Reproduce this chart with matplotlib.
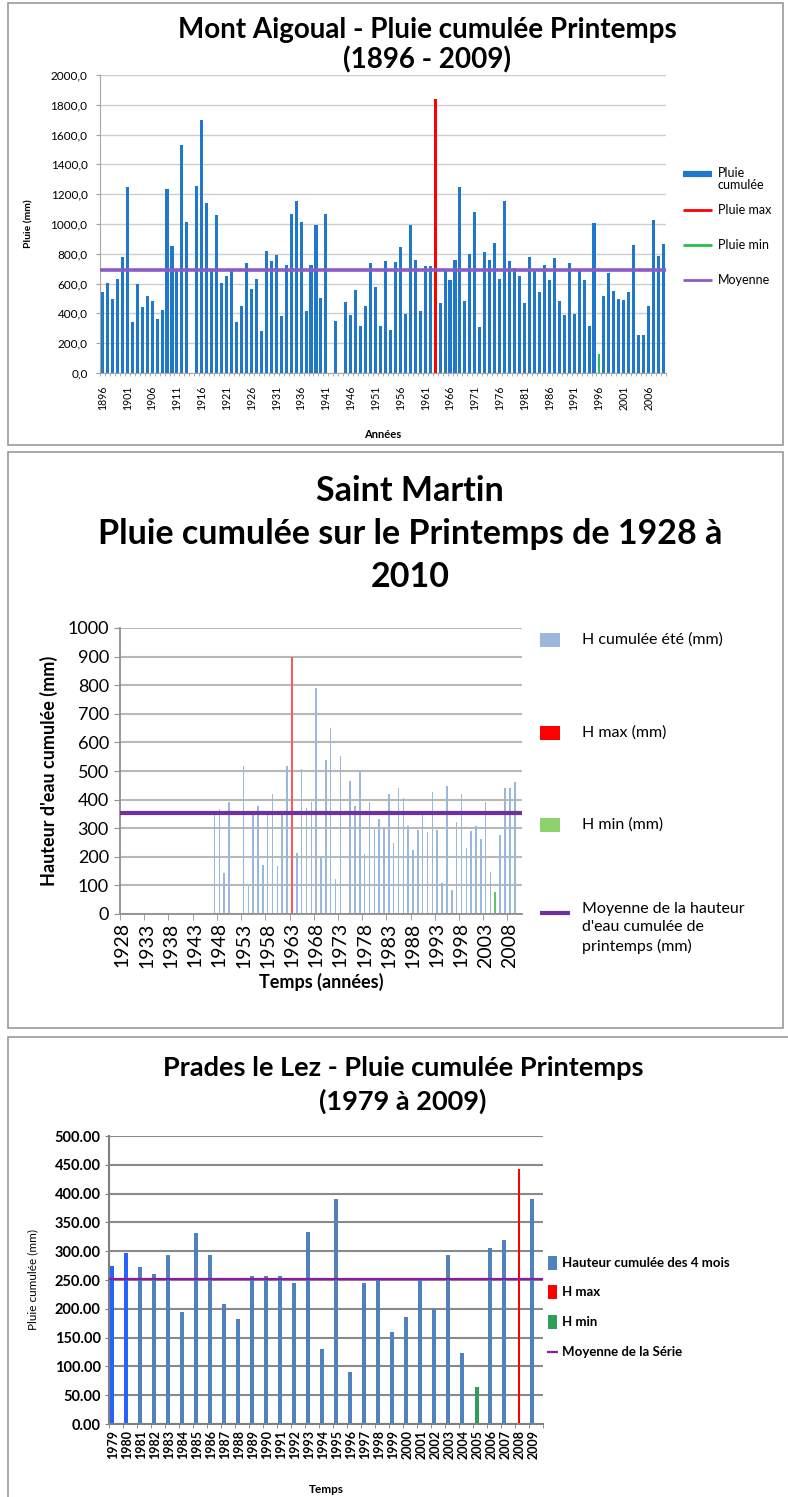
import numpy as np
import matplotlib
matplotlib.use("Agg")
import matplotlib.pyplot as plt
from matplotlib.lines import Line2D
from matplotlib.patches import Rectangle

plt.rcParams["font.family"] = ["Lato", "DejaVu Sans"]

W, H = 788, 1497
nan = np.nan

# --- Mont Aigoual, 1896-2009 (mm) ---
aigoual_years = np.arange(1896, 2010)
aigoual_rain = [
    543, 603, 496, 632, 780, 1247, 342, 594, 442, 518,
    480, 362, 420, 1232, 855, 686, 1533, 1012, nan, 1256,
    1700, 1138, 690, 1061, 603, 653, 682, 340, 452, 740,
    561, 632, 279, 818, 754, 791, 380, 728, 1070, 1156,
    1012, 415, 724, 992, 503, 1066, nan, 346, nan, 474,
    391, 559, 313, 452, 740, 575, 317, 755, 290, 742,
    843, 393, 996, 760, 415, 715, 717, 1839, 467, 684,
    626, 758, 1249, 486, 801, 1078, 310, 814, 760, 872,
    630, 1154, 752, 704, 648, 471, 780, 684, 544, 728,
    626, 769, 485, 391, 740, 397, 684, 626, 317, 1006,
    125, 515, 670, 550, 498, 490, 542, 856, 255, 253,
    452, 1028, 788, 867,
]
aigoual_mean = 690

# --- Saint Martin, 1928-2010 (mm) ---
stmartin_years = np.arange(1928, 2011)
stmartin_rain = [nan] * 19 + [
    350, 366, 142, 391, nan, nan, 516, 99, 350, 376,
    172, 358, 419, 168, 358, 516, 899, 215, 508, 372,
    391, 790, 201, 537, 650, 121, 553, nan, 466, 376,
    502, 209, 391, 300, 331, 300, 419, 247, 440, 405,
    308, 224, 294, 350, 285, 428, 294, 107, 448, 84,
    321, 419, 230, 291, 308, 261, 393, 148, 78, 277,
    440, 440, 463, nan,
]
stmartin_mean = 352

# --- Prades le Lez, 1979-2009 (mm) ---
prades_years = np.arange(1979, 2010)
prades_rain = [
    274.6, 297, 272, 260, 294, 194, 331, 294, 209, 182,
    257, 257, 257, 245, 334, 131, 390, 90, 245, 251,
    160, 186, 250, 199, 294, 123, 65, 305, 320, 442,
    390,
]
prades_mean = 251

fig = plt.figure(figsize=(W / 100, H / 100), dpi=100)


def px_axes(left, top, right, bottom):
    return fig.add_axes([left / W, 1 - bottom / H, (right - left) / W, (bottom - top) / H])


def fx(x):
    return x / W


def fy(y):
    return 1 - y / H


def box(left, top, right, bottom):
    fig.add_artist(Rectangle((fx(left), fy(bottom)), fx(right - left), (bottom - top) / H,
                             transform=fig.transFigure, fill=False, ec="#9a9a9a", lw=1.2))


def leg_line(x0, x1, y, color, lw):
    fig.add_artist(Line2D([fx(x0), fx(x1)], [fy(y), fy(y)], transform=fig.transFigure,
                          color=color, lw=lw, solid_capstyle="butt"))


def leg_patch(x0, x1, y0, y1, color):
    fig.add_artist(Rectangle((fx(x0), fy(y1)), fx(x1 - x0), (y1 - y0) / H,
                             transform=fig.transFigure, color=color, lw=0))


def split_extremes(vals):
    vals = np.array(vals, dtype=float)
    imax, imin = np.nanargmax(vals), np.nanargmin(vals)
    base = vals.copy()
    base[[imax, imin]] = nan
    vmax = np.full_like(vals, nan)
    vmin = np.full_like(vals, nan)
    vmax[imax] = vals[imax]
    vmin[imin] = vals[imin]
    return base, vmax, vmin


# ================= Panel 1 =================
box(8, 3, 783, 445)
ax1 = px_axes(100, 75, 666, 373)
x1 = np.arange(len(aigoual_years))
base, vmax, vmin = split_extremes(aigoual_rain)
ax1.bar(x1, base, width=0.62, color="#1f78cc", zorder=2)
ax1.bar(x1, vmax, width=0.62, color="#ff0000", zorder=2)
ax1.bar(x1, vmin, width=0.5, color="#22c24a", zorder=2)
ax1.axhline(aigoual_mean, color="#8a5cc6", lw=2.6, zorder=3)
ax1.set_xlim(-0.5, len(x1) - 0.5)
ax1.set_ylim(0, 2000)
yt = np.arange(0, 2001, 200)
ax1.set_yticks(yt)
ax1.set_yticklabels([f"{v:.1f}".replace(".", ",") for v in yt], fontsize=8.5)
ax1.set_xticks(x1[::5])
ax1.set_xticklabels(aigoual_years[::5], rotation=90, fontsize=7.6)
ax1.set_xticks(np.arange(-0.5, len(x1), 1), minor=True)
ax1.tick_params(axis="x", which="major", length=0, pad=9)
ax1.tick_params(axis="x", which="minor", length=2.5, color="#a0a0a0")
ax1.tick_params(axis="y", length=3, color="#a0a0a0", pad=6)
ax1.yaxis.grid(True, color="#cdcdcd", lw=1)
ax1.set_axisbelow(True)
for s in ["top", "right"]:
    ax1.spines[s].set_visible(False)
for s in ["left", "bottom"]:
    ax1.spines[s].set_color("#a8a8a8")
ax1.set_ylabel("Pluie (mm)", fontsize=7.5, fontweight="bold", labelpad=12)
ax1.set_xlabel("Années", fontsize=8, fontweight="bold", labelpad=14)
fig.text(fx(427), fy(45), "Mont Aigoual - Pluie cumulée Printemps\n(1896 - 2009)",
         ha="center", va="center", fontsize=20, fontweight="bold", linespacing=1.15)

leg_line(683, 712, 174, "#1f78cc", 4.5)
leg_line(683, 712, 210, "#ff0000", 2)
leg_line(683, 712, 245, "#22c24a", 2)
leg_line(683, 712, 280, "#8a5cc6", 2)
fig.text(fx(718), fy(179), "Pluie\ncumulée", fontsize=9, va="center", linespacing=1.05)
fig.text(fx(718), fy(210), "Pluie max", fontsize=9, va="center")
fig.text(fx(718), fy(245), "Pluie min", fontsize=9, va="center")
fig.text(fx(718), fy(280), "Moyenne", fontsize=9, va="center")

# ================= Panel 2 =================
box(8, 452, 783, 1028)
ax2 = px_axes(120, 628, 522, 914)
x2 = np.arange(len(stmartin_years))
base, vmax, vmin = split_extremes(stmartin_rain)
ax2.bar(x2, base, width=0.32, color="#9ab8de", zorder=2)
ax2.bar(x2, vmax, width=0.32, color="#ff5a5a", zorder=2)
ax2.bar(x2, vmin, width=0.45, color="#6cbf6a", zorder=2)
ax2.axhline(stmartin_mean, color="#7030a0", lw=3, zorder=3)
ax2.set_xlim(-0.5, len(x2) - 0.5)
ax2.set_ylim(0, 1000)
ax2.set_yticks(np.arange(0, 1001, 100))
ax2.tick_params(axis="y", labelsize=13, length=4, color="#909090", pad=4)
ax2.set_xticks(x2[::5])
ax2.set_xticklabels(stmartin_years[::5], rotation=90, fontsize=14)
ax2.set_xticks(np.arange(-0.5, len(x2), 5), minor=True)
ax2.tick_params(axis="x", which="major", length=0, pad=6)
ax2.tick_params(axis="x", which="minor", length=4, color="#909090")
ax2.yaxis.grid(True, color="#b8b8b8", lw=1.5)
ax2.set_axisbelow(True)
for s in ["top", "right"]:
    ax2.spines[s].set_visible(False)
for s in ["left", "bottom"]:
    ax2.spines[s].set_color("#909090")
    ax2.spines[s].set_linewidth(1.3)
ax2.set_ylabel("Hauteur d'eau cumulée (mm)", fontsize=13, fontweight="bold", labelpad=7)
ax2.set_xlabel("Temps (années)", fontsize=13, fontweight="bold", labelpad=4)
fig.text(fx(410), fy(534), "Saint Martin\nPluie cumulée sur le Printemps de 1928 à\n2010",
         ha="center", va="center", fontsize=24.5, fontweight="bold", linespacing=1.42)

leg_patch(540, 560, 633, 647, "#9ab8de")
leg_patch(540, 560, 726, 740, "#ff0000")
leg_patch(540, 560, 818, 832, "#8fd16a")
leg_line(540, 570, 913, "#7030a0", 3)
fig.text(fx(582), fy(640), "H cumulée été (mm)", fontsize=11.5, va="center")
fig.text(fx(582), fy(733), "H max (mm)", fontsize=11.5, va="center")
fig.text(fx(582), fy(825), "H min (mm)", fontsize=11.5, va="center")
fig.text(fx(582), fy(902), "Moyenne de la hauteur\nd'eau cumulée de\nprintemps (mm)",
         fontsize=11.5, va="top", linespacing=1.4)

# ================= Panel 3 =================
box(8, 1037, 795, 1500)
ax3 = px_axes(109, 1136, 543, 1424)
x3 = np.arange(len(prades_years))
base, vmax, vmin = split_extremes(prades_rain)
colors3 = ["#2563ff" if i < 2 else "#4f81bd" for i in x3]
ax3.bar(x3 + 0.2, base, width=0.3, color=colors3, zorder=2)
ax3.bar(x3 + 0.3, vmax, width=0.12, color="#ff0000", zorder=2)
ax3.bar(x3 + 0.3, vmin, width=0.28, color="#2e9e5a", zorder=2)
ax3.axhline(prades_mean, color="#8b1aa0", lw=1.6, zorder=3)
ax3.set_xlim(0, len(x3))
ax3.set_ylim(0, 500)
yt3 = np.arange(0, 501, 50)
ax3.set_yticks(yt3)
ax3.set_yticklabels([f"{v:.2f}" for v in yt3], fontsize=10.5, fontweight="bold")
ax3.tick_params(axis="y", length=3, color="#808080", pad=3)
ax3.set_xticks(x3 + 0.3)
ax3.set_xticklabels(prades_years, rotation=90, fontsize=9, fontweight="bold")
ax3.set_xticks(np.arange(0, len(x3) + 1), minor=True)
ax3.tick_params(axis="x", which="major", length=0, pad=4)
ax3.tick_params(axis="x", which="minor", length=3, color="#808080")
ax3.yaxis.grid(True, color="#8a8a8a", lw=1.5)
ax3.set_axisbelow(True)
for s in ["top", "right"]:
    ax3.spines[s].set_visible(False)
for s in ["left", "bottom"]:
    ax3.spines[s].set_color("#808080")
    ax3.spines[s].set_linewidth(1.5)
ax3.set_ylabel("Pluie cumulée (mm)", fontsize=8.5, labelpad=12)
ax3.set_xlabel("Temps", fontsize=8.5, fontweight="bold", labelpad=18)
fig.text(fx(403), fy(1085), "Prades le Lez - Pluie cumulée Printemps\n(1979 à 2009)",
         ha="center", va="center", fontsize=19.5, fontweight="bold", linespacing=1.45)

leg_patch(548, 557, 1256, 1270, "#4f81bd")
leg_patch(548, 557, 1285, 1299, "#ff0000")
leg_patch(548, 557, 1315, 1329, "#2e9e5a")
leg_line(547, 558, 1352, "#8b1aa0", 1.6)
fig.text(fx(562), fy(1263), "Hauteur cumulée des 4 mois", fontsize=9.5, fontweight="bold", va="center")
fig.text(fx(562), fy(1292), "H max", fontsize=9.5, fontweight="bold", va="center")
fig.text(fx(562), fy(1322), "H min", fontsize=9.5, fontweight="bold", va="center")
fig.text(fx(562), fy(1352), "Moyenne de la Série", fontsize=9.5, fontweight="bold", va="center")

fig.savefig("out.png", dpi=100, facecolor="white")
